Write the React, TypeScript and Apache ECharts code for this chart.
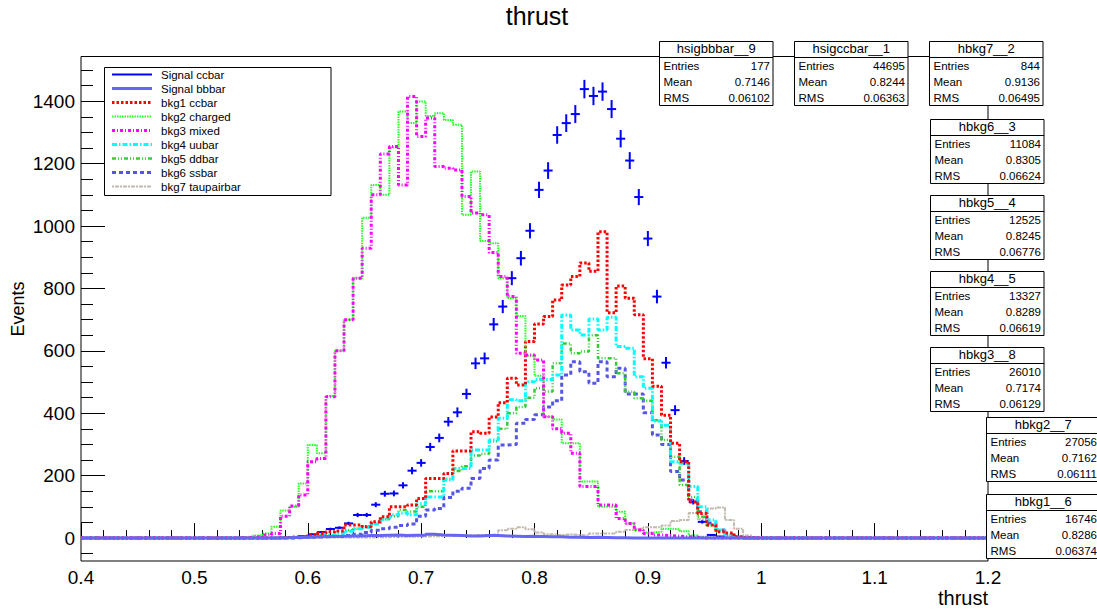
import React, { useEffect, useRef } from "react";
import * as echarts from "echarts";

// ---------------- data (bins of width 0.008 from 0.4 to 1.2, arrays start at bin 17) ----------------
const X_MIN = 0.4;
const X_MAX = 1.2;
const N_BINS = 100;
const FIRST_BIN = 17;

const sigCcbar = [0,0,0,0,0,2,3,6,12,19,29,33,47,74,74,107,142,143,169,216,241,292,321,373,403,462,560,576,685,742,833,897,985,1116,1178,1292,1330,1359,1439,1417,1431,1375,1280,1210,1093,960,774,562,410,247,116,52,10,5,0,0,0,0];
const sigCcbarErr = [0,0,0,0,0,1.1,1.4,1.9,2.7,3.4,4.2,4.5,5.3,6.7,6.7,8.1,9.3,9.3,10.1,11.5,12.1,13.3,14.0,15.1,15.7,16.8,18.5,18.7,20.4,21.2,22.5,23.4,24.5,26.1,26.8,28.0,28.4,28.8,29.6,29.4,29.5,28.9,27.9,27.1,25.8,24.2,21.7,18.5,15.8,12.3,8.4,5.6,2.5,1.7,0,0,0,0];
const sigBbbar = [0,0,0,0,0,1,2,3,4,5,5,6,7,7,8,8,9,10,8,9,9,12,10,9,8,7,7,8,8,7,6,5,6,5,4,4,3,3,2,3,2,1,1,0,0,0,0,0,0,0,0,0,0,0,0,0,0,0];
const bkg1Ccbar = [0,0,0,0,1,2,4,6,10,15,20,23,42,42,36,52,68,100,100,106,127,191,191,207,279,279,341,336,388,434,512,491,630,686,710,763,811,838,882,855,982,722,808,769,716,575,487,394,304,245,116,79,42,20,16,4,1,0];
const bkg2Charged = [2,4,8,15,36,88,100,175,298,272,455,600,700,833,1027,1132,1100,1252,1367,1330,1399,1353,1362,1340,1325,1036,1175,952,945,833,769,712,584,520,389,380,304,304,181,181,100,100,84,47,26,18,20,30,28,22,8,4,2,0,0,0,0,0];
const bkg3Mixed = [1,3,5,10,15,70,103,138,245,255,453,600,700,833,929,1100,1231,1255,1132,1415,1287,1346,1191,1185,1180,1095,1042,1036,915,838,774,592,587,571,389,350,336,272,165,165,106,106,63,47,26,15,10,8,6,4,2,0,0,0,0,0,0,0];
const bkg4Uubar = [0,0,0,0,0,1,2,3,5,8,10,15,22,30,35,45,60,75,80,75,110,132,132,186,223,223,282,282,314,384,443,440,501,508,508,523,715,667,651,702,667,708,614,608,517,480,375,362,245,240,165,100,58,26,10,3,0,0];
const bkg5Ddbar = [0,0,0,0,0,1,2,3,4,8,10,18,25,30,38,45,60,70,90,85,100,150,150,190,215,230,265,270,310,350,400,420,450,480,470,560,624,592,598,650,576,576,528,469,448,440,378,314,261,170,132,68,40,20,8,2,0,0];
const bkg6Ssbar = [0,0,0,0,0,0,1,2,3,4,5,5,8,12,18,25,30,35,40,45,70,90,95,130,150,160,191,223,250,298,300,368,380,395,420,440,523,565,533,496,565,517,544,462,462,402,330,300,213,186,122,84,48,26,10,3,0,0];
const bkg7Taupair = [0,0,0,0,0,1,1,1,1,2,2,2,2,2,2,3,3,4,4,5,5,6,6,7,8,8,10,10,12,25,30,35,28,18,12,10,12,10,8,15,15,15,20,26,30,35,35,40,55,58,80,60,95,98,58,30,8,2];

const xMajorTicks = [0.4, 0.5, 0.6, 0.7, 0.8, 0.9, 1.0, 1.1, 1.2];
const yMajorTicks = [0, 200, 400, 600, 800, 1000, 1200, 1400];
const Y_MIN = -73.5;
const Y_MAX = 1543.5;

const legendNames = ["Signal ccbar", "Signal bbbar", "bkg1 ccbar", "bkg2 charged", "bkg3 mixed", "bkg4 uubar", "bkg5 ddbar", "bkg6 ssbar", "bkg7 taupairbar"];

const statNames = ["hsigbbbar__9", "hsigccbar__1", "hbkg7__2", "hbkg6__3", "hbkg5__4", "hbkg4__5", "hbkg3__8", "hbkg2__7", "hbkg1__6"];
const statEntries = ["177", "44695", "844", "11084", "12525", "13327", "26010", "27056", "16746"];
const statMeans = ["0.7146", "0.8244", "0.9136", "0.8305", "0.8245", "0.8289", "0.7174", "0.7162", "0.8286"];
const statRms = ["0.06102", "0.06363", "0.06495", "0.06624", "0.06776", "0.06619", "0.06129", "0.06111", "0.06374"];

// ---------------- styles ----------------
const FONT = '"Liberation Sans", Arial, Helvetica, sans-serif';
type St = { color: string; width: number; dash: any };
const STY: Record<string, St> = {
  "Signal ccbar": { color: "#0000ff", width: 2, dash: "solid" },
  "Signal bbbar": { color: "#6666f2", width: 3, dash: "solid" },
  "bkg1 ccbar": { color: "#ff0000", width: 3, dash: [2.5, 2] },
  "bkg2 charged": { color: "#22ff22", width: 2, dash: [1.5, 1] },
  "bkg3 mixed": { color: "#ff00ff", width: 3, dash: [3, 2, 1, 2] },
  "bkg4 uubar": { color: "#00ffff", width: 3, dash: [5, 2, 1.5, 2] },
  "bkg5 ddbar": { color: "#33cc33", width: 2.5, dash: [4, 2, 1, 2, 1, 2] },
  "bkg6 ssbar": { color: "#5555e6", width: 3, dash: [4, 3] },
  "bkg7 taupairbar": { color: "#c2baae", width: 2, dash: [2, 1, 4, 1] },
};

const BIN_W = (X_MAX - X_MIN) / N_BINS;

function valAt(vals: number[], i: number) {
  const k = i - FIRST_BIN;
  return k >= 0 && k < vals.length ? vals[k] : 0;
}

function histPoints(vals: number[]) {
  const pts: number[][] = [];
  for (let i = 0; i < N_BINS; i++) {
    pts.push([+(X_MIN + i * BIN_W).toFixed(5), valAt(vals, i)]);
  }
  pts.push([X_MAX, pts[pts.length - 1][1]]);
  return pts;
}

function histSeries(name: string, vals: number[], z: number) {
  const s = STY[name];
  return {
    type: "line",
    name,
    data: histPoints(vals),
    step: "end",
    symbol: "none",
    showSymbol: false,
    silent: true,
    z,
    lineStyle: { color: s.color, width: s.width, type: s.dash },
  };
}

function errPoints() {
  const pts: number[][] = [];
  for (let i = 0; i < N_BINS; i++) {
    const v = valAt(sigCcbar, i);
    if (v > 0) pts.push([X_MIN + (i + 0.5) * BIN_W, v, valAt(sigCcbarErr, i)]);
  }
  return pts;
}

function statBox(x: number, y: number, k: number) {
  const W = 113.5;
  const H = 64;
  const R = H / 4;
  const fs = "11.5px " + FONT;
  const fh = "13px " + FONT;
  const t = (tx: number, ty: number, text: string, align: string, font: string) => ({
    type: "text",
    x: tx,
    y: ty,
    z: 102,
    style: { text, font, fill: "#000", align, textAlign: align, verticalAlign: "middle", textVerticalAlign: "middle" },
  });
  return {
    type: "group",
    x,
    y,
    z: 100,
    children: [
      { type: "rect", z: 100, shape: { x: 0, y: 0, width: W, height: H }, style: { fill: "#fff", stroke: "#000", lineWidth: 1 } },
      { type: "line", z: 101, shape: { x1: 0, y1: R, x2: W, y2: R }, style: { stroke: "#000", lineWidth: 1 } },
      t(W / 2, R / 2 - 1, statNames[k], "center", fh),
      t(4, R * 1.5 + 0.5, "Entries", "left", fs),
      t(W - 3, R * 1.5 + 0.5, statEntries[k], "right", fs),
      t(4, R * 2.5 + 0.5, "Mean", "left", fs),
      t(W - 3, R * 2.5 + 0.5, statMeans[k], "right", fs),
      t(4, R * 3.5 + 0.5, "RMS", "left", fs),
      t(W - 3, R * 3.5 + 0.5, statRms[k], "right", fs),
    ],
  };
}

function legendGroup() {
  const children: any[] = [
    { type: "rect", z: 100, shape: { x: 104.5, y: 67.5, width: 226.5, height: 128 }, style: { fill: "#fff", stroke: "#000", lineWidth: 1 } },
  ];
  legendNames.forEach((n, k) => {
    const y = 74.5 + 14 * k;
    const s = STY[n];
    children.push({
      type: "line",
      z: 101,
      shape: { x1: 112, y1: y, x2: 152, y2: y },
      style: { stroke: s.color, lineWidth: s.width, lineDash: Array.isArray(s.dash) ? s.dash : null },
    });
    children.push({
      type: "text",
      z: 101,
      x: 161,
      y: y + 0.5,
      style: { text: n, font: "11.5px " + FONT, fill: "#000", align: "left", textAlign: "left", verticalAlign: "middle", textVerticalAlign: "middle" },
    });
  });
  return { type: "group", z: 100, children };
}

function buildOption() {
  const xMinor: number[] = [];
  for (let k = 0; k <= 40; k++) xMinor.push(+(X_MIN + k * 0.02).toFixed(3));
  const yMinor: number[] = [];
  for (let v = -50; v <= 1500; v += 50) yMinor.push(v);

  const statPos = [
    [659.5, 41.5], [794.5, 41.5], [929.5, 41.5],
    [930.5, 119.5], [930.5, 195.5], [930.5, 271.5], [930.5, 347.5],
    [986.5, 417.5], [986.5, 494.5],
  ];

  return {
    animation: false,
    backgroundColor: "#ffffff",
    grid: { left: 81, top: 56.5, width: 907, height: 504.5, show: true, borderColor: "#000", borderWidth: 1, backgroundColor: "transparent" },
    xAxis: [
      {
        type: "value", min: X_MIN, max: X_MAX, interval: 0.1, position: "bottom",
        axisLine: { show: false }, splitLine: { show: false },
        axisTick: { show: true, inside: true, length: 15, customValues: xMajorTicks, lineStyle: { color: "#000", width: 1 } },
        axisLabel: {
          show: true, customValues: xMajorTicks, margin: 7, fontSize: 19, fontFamily: FONT, color: "#000",
          formatter: (v: number) => String(Math.round(v * 10) / 10),
        },
      },
      {
        type: "value", min: X_MIN, max: X_MAX, position: "bottom",
        axisLine: { show: false }, splitLine: { show: false },
        axisTick: { show: true, inside: true, length: 8, customValues: xMinor, lineStyle: { color: "#000", width: 1 } },
        axisLabel: { show: false },
      },
    ],
    yAxis: [
      {
        type: "value", min: Y_MIN, max: Y_MAX, position: "left",
        axisLine: { show: false }, splitLine: { show: false },
        axisTick: { show: true, inside: true, length: 24, customValues: yMajorTicks, lineStyle: { color: "#000", width: 1 } },
        axisLabel: { show: true, customValues: yMajorTicks, margin: 6, fontSize: 19, fontFamily: FONT, color: "#000", formatter: (v: number) => String(v) },
      },
      {
        type: "value", min: Y_MIN, max: Y_MAX, position: "left",
        axisLine: { show: false }, splitLine: { show: false },
        axisTick: { show: true, inside: true, length: 12, customValues: yMinor, lineStyle: { color: "#000", width: 1 } },
        axisLabel: { show: false },
      },
    ],
    series: [
      {
        type: "custom",
        name: "Signal ccbar",
        data: errPoints(),
        encode: { x: 0, y: 1 },
        silent: true,
        z: 2,
        renderItem: (_p: any, api: any) => {
          const x = api.value(0);
          const y = api.value(1);
          const e = api.value(2);
          const l = api.coord([x - BIN_W / 2, y]);
          const r = api.coord([x + BIN_W / 2, y]);
          const t = api.coord([x, y + e]);
          const b = api.coord([x, y - e]);
          const st = { stroke: STY["Signal ccbar"].color, lineWidth: 2 };
          return {
            type: "group",
            children: [
              { type: "line", shape: { x1: l[0], y1: l[1], x2: r[0], y2: r[1] }, style: st },
              { type: "line", shape: { x1: t[0], y1: t[1], x2: b[0], y2: b[1] }, style: st },
            ],
          };
        },
      },
      histSeries("bkg7 taupairbar", bkg7Taupair, 3),
      histSeries("bkg6 ssbar", bkg6Ssbar, 4),
      histSeries("bkg5 ddbar", bkg5Ddbar, 5),
      histSeries("bkg4 uubar", bkg4Uubar, 6),
      histSeries("bkg1 ccbar", bkg1Ccbar, 7),
      histSeries("bkg2 charged", bkg2Charged, 8),
      histSeries("bkg3 mixed", bkg3Mixed, 9),
      histSeries("Signal bbbar", sigBbbar, 10),
    ],
    graphic: {
      elements: [
        {
          type: "text", x: 537, y: 16, z: 100,
          style: { text: "thrust", font: "25px " + FONT, fill: "#000", align: "center", textAlign: "center", verticalAlign: "middle", textVerticalAlign: "middle" },
        },
        {
          type: "text", x: 988, y: 598, z: 100,
          style: { text: "thrust", font: "20px " + FONT, fill: "#000", align: "right", textAlign: "right", verticalAlign: "middle", textVerticalAlign: "middle" },
        },
        {
          type: "text", x: 18, y: 309, z: 100, rotation: Math.PI / 2,
          style: { text: "Events", font: "18px " + FONT, fill: "#000", align: "center", textAlign: "center", verticalAlign: "middle", textVerticalAlign: "middle" },
        },
        legendGroup(),
        ...statPos.map((p, k) => statBox(p[0], p[1], k)),
      ],
    },
  };
}

export default function App() {
  const ref = useRef<HTMLDivElement>(null);
  useEffect(() => {
    if (!ref.current) return;
    const chart = echarts.init(ref.current, null, { renderer: "svg" });
    chart.setOption(buildOption() as any);
    return () => chart.dispose();
  }, []);
  return (
    <div
      ref={ref}
      style={{ position: "fixed", left: 0, top: 0, width: 1097, height: 613, background: "#fff" }}
    />
  );
}
